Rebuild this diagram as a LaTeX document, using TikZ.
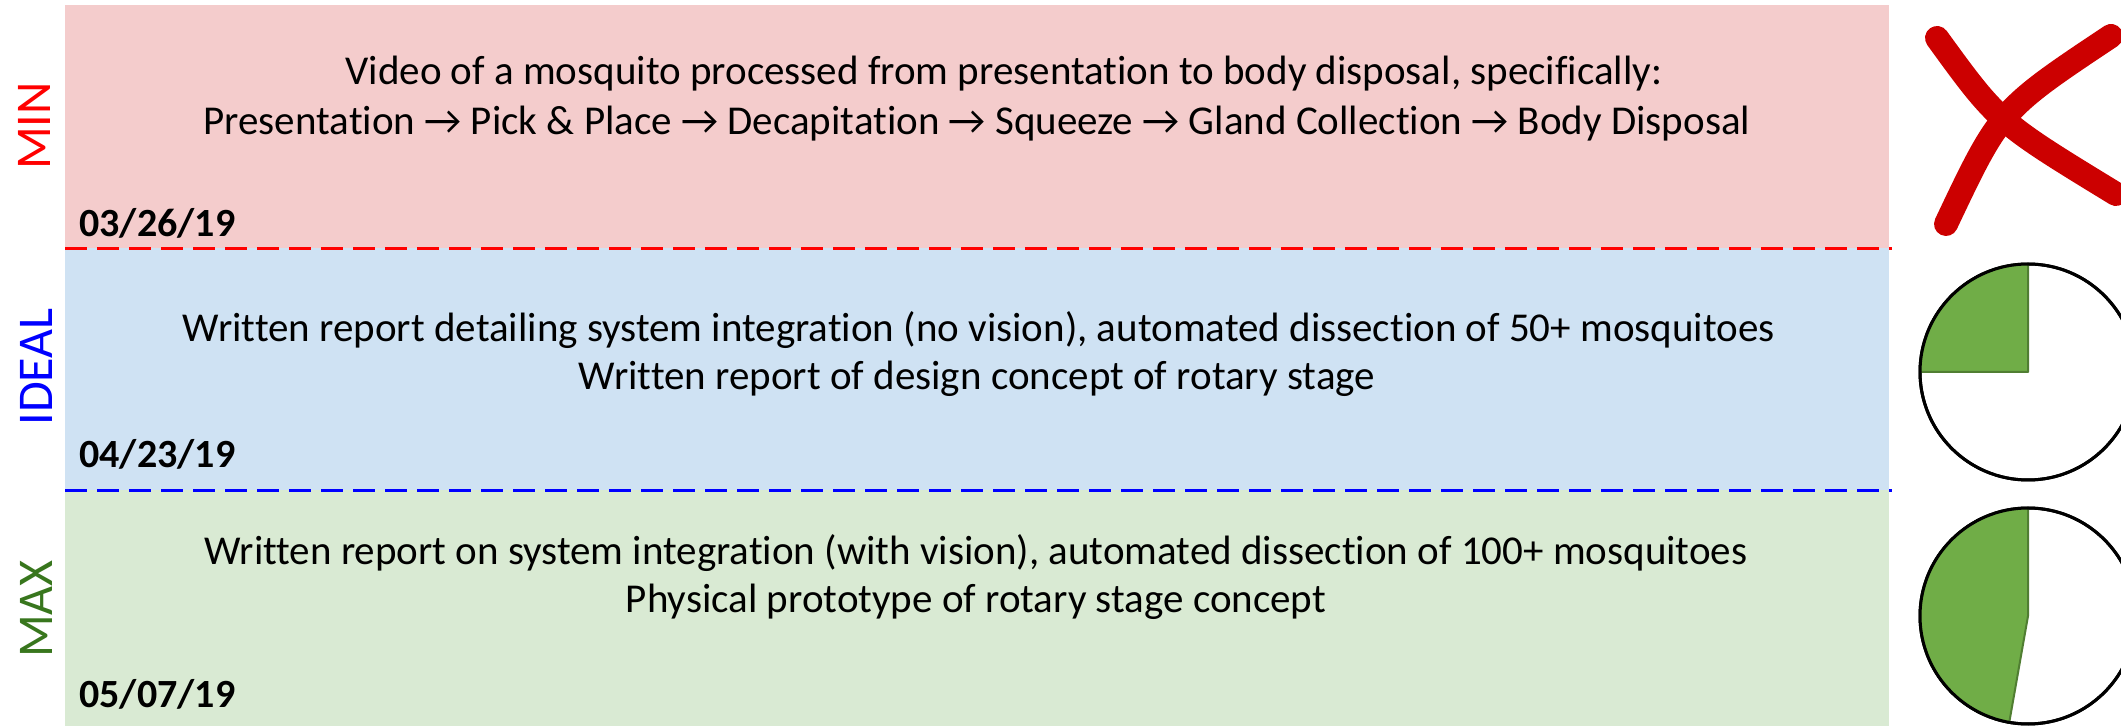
\documentclass[tikz,border=0pt]{standalone}
\usepackage{fontspec}
\setmainfont{Carlito}[Ligatures=NoCommon]
\newfontfamily\arrowfont{DejaVu Sans}
\newcommand{\ra}{\iffontchar\font"2192 →\else{\arrowfont →}\fi}
\definecolor{minfill}{HTML}{F4CCCC}
\definecolor{idealfill}{HTML}{CFE2F3}
\definecolor{maxfill}{HTML}{D9EAD3}
\definecolor{maxgreen}{HTML}{38761D}
\definecolor{piegreen}{HTML}{70AD47}
\definecolor{pieedge}{HTML}{507E32}
\definecolor{xred}{HTML}{CC0000}
\tikzset{
  body/.style={anchor=base, inner sep=0pt, font=\fontsize{20.5}{24}\selectfont},
  datelbl/.style={anchor=base west, inner sep=0pt, font=\bfseries\fontsize{20}{24}\selectfont},
  tierlbl/.style={rotate=90, inner sep=0pt, font=\fontsize{25}{30}\selectfont},
  divider/.style={line width=1.5pt, dash pattern=on 11pt off 5pt},
  pieface/.style={fill=white, draw=black, line width=1.5pt},
  pieslice/.style={fill=piegreen, draw=pieedge, line width=1pt, line join=round},
  xstroke/.style={xred, line width=12pt, line cap=round}
}
\begin{document}
\begin{tikzpicture}[x=0.5pt, y=-0.5pt]
\clip (0,0) rectangle (2121,726);
\fill[white] (0,0) rectangle (2121,726);

% tier bands
\fill[minfill]   (65,5)   rectangle (1889,248);
\fill[idealfill] (65,248) rectangle (1889,490);
\fill[maxfill]   (65,490) rectangle (1889,726);

% dividers between tiers
\coordinate (d1a) at (65,249);  \coordinate (d1b) at (1892,249);
\coordinate (d2a) at (65,491);  \coordinate (d2b) at (1892,491);
\draw[divider, red]  (d1a) -- (d1b);
\draw[divider, blue] (d2a) -- (d2b);

% tier labels
\node[tierlbl, text=red]      (minlbl)   at (34,126) {MIN};
\node[tierlbl, text=blue]     (ideallbl) at (36,367) {IDEAL};
\node[tierlbl, text=maxgreen] (maxlbl)   at (36,609) {MAX};

% MIN tier
\node[body] (minA) at (1004,85)  {Video of a mosquito processed from presentation to body disposal, specifically:};
\node[body] (minB) at (977,135)  {Presentation \ra{} Pick \& Place \ra{} Decapitation \ra{} Squeeze \ra{} Gland Collection \ra{} Body Disposal};
\node[datelbl] (minD) at (79,237) {03/26/19};

% IDEAL tier
\node[body] (idealA) at (979,342) {Written report detailing system integration (no vision), automated dissection of 50+ mosquitoes};
\node[body] (idealB) at (977,390) {Written report of design concept of rotary stage};
\node[datelbl] (idealD) at (79,468) {04/23/19};

% MAX tier
\node[body] (maxA) at (976,565) {Written report on system integration (with vision), automated dissection of 100+ mosquitoes};
\node[body] (maxB) at (976,613) {Physical prototype of rotary stage concept};
\node[datelbl] (maxD) at (79,707) {05/07/19};

% cross for the MIN tier
\draw[xstroke] (1937,38) .. controls (1998,122) .. (2116,194);
\draw[xstroke] (2111,36) .. controls (2000,110) .. (1946,224);

% progress pie for the IDEAL tier
\coordinate (pi) at (2028,372);
\draw[pieface] (pi) circle[radius=108];
\fill[pieslice] (pi) -- ++(180:108) arc[start angle=180, end angle=270, radius=108] -- cycle;
\draw[black, line width=1.5pt] (pi) circle[radius=108];

% progress pie for the MAX tier
\coordinate (pm) at (2028,616);
\draw[pieface] (pm) circle[radius=108];
\fill[pieslice] (pm) -- ++(100:108) arc[start angle=100, end angle=270, radius=108] -- cycle;
\draw[black, line width=1.5pt] (pm) circle[radius=108];
\end{tikzpicture}
\end{document}
